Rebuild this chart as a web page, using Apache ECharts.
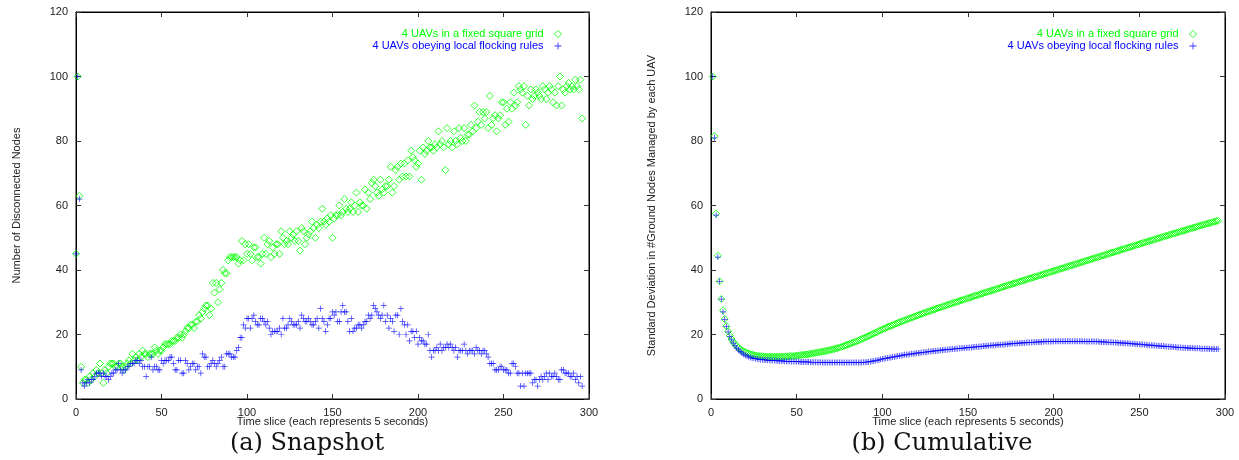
<!DOCTYPE html>
<html>
<head>
<meta charset="utf-8">
<script src="https://cdn.jsdelivr.net/npm/echarts@6/dist/echarts.min.js"></script>
<style>
  body { margin: 0; background: #fff; }
  #chart { width: 1239px; height: 460px; }
</style>
</head>
<body>
<div id="chart"></div>
<script>
// legend / series names
const gridName = '4 UAVs in a fixed square grid'
const flockName = '4 UAVs obeying local flocking rules'

// x ticks and y ticks (same for both panels)
const xTicks = [0, 50, 100, 150, 200, 250, 300]
const yTicks = [0, 20, 40, 60, 80, 100, 120]

// (a) Snapshot: one value per time slice, starting at slice 0
const snapFirstSlice = 0
const snapGrid = [
  45, 100, 63, 10, 5, 6, 6, 5, 7, 6,
  8, 7, 9, 8, 11, 8, 5, 9, 8, 10,
  11, 11, 11, 10, 10, 11, 11, 10, 9, 10,
  11, 12, 11, 14, 12, 13, 12, 14, 13, 15,
  14, 14, 13, 14, 14, 14, 16, 15, 14, 15,
  15, 16, 17, 17, 17, 17, 18, 18, 18, 19,
  19, 20, 19, 20, 21, 22, 22, 23, 23, 22,
  24, 24, 26, 25, 27, 28, 29, 29, 26, 28,
  36, 33, 36, 30, 34, 36, 40, 39, 39, 43,
  44, 44, 44, 44, 44, 42, 43, 49, 43, 48,
  45, 48, 45, 43, 47, 47, 44, 44, 42, 45,
  50, 45, 48, 49, 44, 47, 45, 48, 48, 45,
  52, 50, 48, 49, 48, 52, 50, 51, 49, 52,
  49, 46, 53, 52, 48, 50, 51, 52, 55, 53,
  50, 54, 53, 55, 59, 55, 54, 56, 55, 57,
  50, 56, 57, 57, 60, 57, 58, 62, 59, 58,
  59, 61, 58, 60, 64, 58, 61, 60, 60, 65,
  59, 64, 62, 67, 68, 66, 64, 63, 68, 65,
  64, 66, 66, 68, 72, 64, 66, 71, 72, 68,
  73, 69, 73, 69, 74, 69, 77, 75, 74, 72,
  73, 77, 68, 78, 76, 77, 80, 78, 78, 77,
  79, 78, 83, 79, 80, 78, 71, 84, 79, 80,
  78, 83, 80, 79, 84, 81, 80, 84, 80, 82,
  82, 85, 83, 91, 84, 86, 89, 85, 89, 87,
  89, 84, 94, 85, 87, 88, 83, 87, 88, 92,
  92, 85, 90, 86, 92, 90, 95, 91, 92, 97,
  96, 95, 97, 85, 94, 91, 96, 93, 94, 96,
  95, 94, 93, 97, 96, 93, 95, 97, 96, 92,
  95, 91, 97, 100, 91, 96, 95, 97, 98, 96,
  97, 96, 99, 97, 96, 99, 87
]
const snapFlock = [
  45, 100, 62, 9, 5, 4, 5, 6, 5, 6,
  6, 7, 8, 8, 8, 7, 8, 7, 7, 6,
  7, 8, 8, 9, 9, 11, 9, 8, 9, 9,
  10, 10, 11, 11, 11, 12, 12, 11, 12, 10,
  10, 7, 10, 10, 13, 9, 10, 10, 9, 9,
  12, 11, 12, 12, 12, 13, 13, 11, 9, 9,
  12, 12, 8, 8, 12, 11, 9, 10, 11, 11,
  9, 10, 10, 8, 14, 13, 13, 10, 10, 11,
  12, 11, 10, 11, 12, 13, 10, 10, 14, 14,
  14, 13, 13, 13, 15, 16, 19, 19, 23, 22,
  25, 25, 22, 25, 26, 24, 23, 23, 25, 25,
  24, 23, 24, 22, 20, 21, 21, 21, 21, 22,
  20, 25, 22, 22, 23, 25, 24, 23, 23, 23,
  24, 22, 26, 25, 24, 24, 25, 24, 23, 23,
  24, 25, 22, 28, 25, 24, 21, 23, 25, 25,
  27, 26, 27, 24, 24, 27, 29, 27, 27, 24,
  21, 25, 21, 22, 22, 23, 23, 22, 23, 24,
  24, 26, 25, 26, 29, 28, 27, 26, 25, 26,
  29, 24, 26, 22, 25, 24, 21, 26, 26, 20,
  28, 24, 23, 20, 23, 18, 21, 21, 19, 21,
  17, 19, 18, 18, 17, 17, 20, 15, 13, 15,
  15, 16, 15, 17, 15, 16, 16, 17, 16, 17,
  16, 15, 16, 13, 15, 15, 15, 17, 15, 14,
  15, 15, 15, 14, 16, 15, 15, 14, 15, 15,
  14, 13, 11, 11, 11, 9, 9, 9, 10, 10,
  9, 9, 9, 8, 8, 11, 11, 10, 8, 8,
  4, 8, 4, 8, 8, 8, 8, 5, 6, 6,
  4, 6, 7, 6, 7, 8, 6, 8, 7, 7,
  8, 7, 6, 6, 9, 9, 8, 8, 8, 7,
  7, 8, 6, 7, 5, 7, 4
]

// (b) Cumulative: one value per time slice, starting at slice 1
const cumFirstSlice = 1
const cumGrid = [
  100, 81.5, 57.5, 44.5, 36.5, 31, 27.5, 24.8, 22.6, 21,
  19.7, 18.6, 17.7, 17, 16.4, 15.9, 15.5, 15.1, 14.8, 14.5,
  14.3, 14.1, 13.9, 13.8, 13.6, 13.5, 13.4, 13.3, 13.3, 13.2,
  13.2, 13.1, 13.1, 13.1, 13.1, 13.1, 13.1, 13.1, 13.1, 13.1,
  13.1, 13.1, 13.2, 13.2, 13.2, 13.3, 13.3, 13.3, 13.4, 13.4,
  13.5, 13.6, 13.6, 13.7, 13.8, 13.8, 13.9, 14.0, 14.1, 14.2,
  14.3, 14.4, 14.5, 14.6, 14.7, 14.8, 14.9, 15.0, 15.1, 15.3,
  15.4, 15.5, 15.7, 15.8, 16.0, 16.1, 16.3, 16.5, 16.7, 16.9,
  17.1, 17.3, 17.5, 17.7, 17.9, 18.1, 18.4, 18.6, 18.8, 19.1,
  19.3, 19.6, 19.8, 20.1, 20.3, 20.6, 20.8, 21.1, 21.3, 21.6,
  21.8, 22.0, 22.3, 22.5, 22.7, 22.9, 23.1, 23.4, 23.6, 23.8,
  24.0, 24.2, 24.4, 24.6, 24.8, 25.0, 25.2, 25.4, 25.6, 25.8,
  26.0, 26.2, 26.4, 26.6, 26.8, 27.0, 27.2, 27.3, 27.5, 27.7,
  27.9, 28.1, 28.3, 28.4, 28.6, 28.8, 29.0, 29.2, 29.3, 29.5,
  29.7, 29.9, 30.0, 30.2, 30.4, 30.6, 30.7, 30.9, 31.1, 31.3,
  31.4, 31.6, 31.8, 32.0, 32.1, 32.3, 32.5, 32.6, 32.8, 33.0,
  33.2, 33.3, 33.5, 33.7, 33.8, 34.0, 34.2, 34.3, 34.5, 34.7,
  34.9, 35.0, 35.2, 35.4, 35.5, 35.7, 35.9, 36.0, 36.2, 36.4,
  36.5, 36.7, 36.9, 37.0, 37.2, 37.4, 37.5, 37.7, 37.9, 38.0,
  38.2, 38.4, 38.5, 38.7, 38.9, 39.0, 39.2, 39.4, 39.5, 39.7,
  39.9, 40.0, 40.2, 40.4, 40.5, 40.7, 40.9, 41.0, 41.2, 41.4,
  41.5, 41.7, 41.9, 42.0, 42.2, 42.4, 42.5, 42.7, 42.9, 43.0,
  43.2, 43.4, 43.5, 43.7, 43.9, 44.0, 44.2, 44.4, 44.5, 44.7,
  44.9, 45.0, 45.2, 45.4, 45.5, 45.7, 45.9, 46.0, 46.2, 46.4,
  46.5, 46.7, 46.9, 47.0, 47.2, 47.4, 47.5, 47.7, 47.9, 48.0,
  48.2, 48.4, 48.5, 48.7, 48.9, 49.0, 49.2, 49.3, 49.5, 49.7,
  49.8, 50.0, 50.2, 50.3, 50.5, 50.6, 50.8, 51.0, 51.1, 51.3,
  51.4, 51.6, 51.8, 51.9, 52.1, 52.2, 52.4, 52.6, 52.7, 52.9,
  53.0, 53.2, 53.3, 53.5, 53.7, 53.8, 54.0, 54.1, 54.3, 54.4,
  54.6, 54.7, 54.9, 55.0, 55.2, 55.3
]
const cumFlock = [
  100, 81, 57, 44, 36.5, 31, 27, 24.7, 22.5, 20.8,
  19.4, 18.3, 17.3, 16.5, 15.8, 15.2, 14.7, 14.3, 13.9, 13.6,
  13.3, 13.1, 12.9, 12.7, 12.6, 12.5, 12.4, 12.3, 12.2, 12.2,
  12.1, 12.1, 12.0, 12.0, 12.0, 11.9, 11.9, 11.9, 11.8, 11.8,
  11.8, 11.8, 11.7, 11.7, 11.7, 11.7, 11.6, 11.6, 11.6, 11.6,
  11.6, 11.5, 11.5, 11.5, 11.5, 11.5, 11.5, 11.4, 11.4, 11.4,
  11.4, 11.4, 11.4, 11.4, 11.3, 11.3, 11.3, 11.3, 11.3, 11.3,
  11.3, 11.3, 11.3, 11.3, 11.3, 11.3, 11.3, 11.3, 11.3, 11.3,
  11.3, 11.3, 11.3, 11.3, 11.3, 11.3, 11.3, 11.3, 11.4, 11.4,
  11.5, 11.5, 11.6, 11.7, 11.8, 11.9, 12.0, 12.1, 12.3, 12.4,
  12.5, 12.6, 12.7, 12.8, 12.9, 13.0, 13.1, 13.2, 13.3, 13.4,
  13.5, 13.6, 13.7, 13.7, 13.8, 13.9, 14.0, 14.0, 14.1, 14.2,
  14.3, 14.3, 14.4, 14.5, 14.5, 14.6, 14.7, 14.7, 14.8, 14.9,
  14.9, 15.0, 15.0, 15.1, 15.2, 15.2, 15.3, 15.3, 15.4, 15.4,
  15.5, 15.5, 15.6, 15.6, 15.7, 15.7, 15.8, 15.8, 15.9, 15.9,
  16.0, 16.0, 16.1, 16.1, 16.2, 16.2, 16.3, 16.3, 16.4, 16.4,
  16.5, 16.5, 16.6, 16.6, 16.7, 16.7, 16.8, 16.8, 16.8, 16.9,
  16.9, 17.0, 17.0, 17.1, 17.1, 17.2, 17.2, 17.2, 17.3, 17.3,
  17.4, 17.4, 17.4, 17.5, 17.5, 17.5, 17.6, 17.6, 17.6, 17.7,
  17.7, 17.7, 17.7, 17.8, 17.8, 17.8, 17.8, 17.8, 17.8, 17.8,
  17.9, 17.9, 17.9, 17.9, 17.9, 17.9, 17.9, 17.9, 17.9, 17.9,
  17.9, 17.9, 17.9, 17.9, 17.9, 17.9, 17.9, 17.9, 17.8, 17.8,
  17.8, 17.8, 17.8, 17.8, 17.8, 17.8, 17.7, 17.7, 17.7, 17.7,
  17.6, 17.6, 17.6, 17.6, 17.5, 17.5, 17.5, 17.4, 17.4, 17.4,
  17.3, 17.3, 17.3, 17.2, 17.2, 17.1, 17.1, 17.0, 17.0, 17.0,
  16.9, 16.9, 16.8, 16.8, 16.7, 16.7, 16.7, 16.6, 16.6, 16.5,
  16.5, 16.4, 16.4, 16.4, 16.3, 16.3, 16.2, 16.2, 16.2, 16.1,
  16.1, 16.0, 16.0, 16.0, 15.9, 15.9, 15.9, 15.8, 15.8, 15.8,
  15.8, 15.7, 15.7, 15.7, 15.7, 15.6, 15.6, 15.6, 15.6, 15.6,
  15.5, 15.5, 15.5, 15.5, 15.5, 15.5
]

const GREEN = '#00ff00'
const BLUE = '#0000ff'
const FONT = 'Liberation Sans'
// gnuplot style plus sign, drawn as a filled cross
const PLUS = 'path://M4.4,0H5.6V4.4H10V5.6H5.6V10H4.4V5.6H0V4.4H4.4Z'

function toPoints(first, values) {
  return values.map((v, i) => [first + i, v])
}

let mycharts = echarts.init(document.getElementById('chart'))

// one pair of axes per grid, plus mirrored ticks on top / right like gnuplot
function makeX(gridIndex, mirror) {
  return {
    gridIndex: gridIndex,
    type: 'value',
    position: mirror ? 'top' : 'bottom',
    min: xTicks[0],
    max: xTicks[xTicks.length - 1],
    interval: xTicks[1] - xTicks[0],
    name: mirror ? '' : 'Time slice (each represents 5 seconds)',
    nameLocation: 'middle',
    nameGap: 17,
    nameMoveOverlap: false,
    nameTextStyle: { fontFamily: FONT, fontSize: 11, color: '#222' },
    axisLine: { show: true, onZero: false, lineStyle: { color: '#000', width: 1 } },
    axisTick: { show: true, inside: true, length: 5, lineStyle: { color: '#333' } },
    axisLabel: { show: !mirror, fontFamily: FONT, fontSize: 11, color: '#222', margin: 8 },
    splitLine: { show: false },
  }
}
function makeY(gridIndex, mirror, title) {
  return {
    gridIndex: gridIndex,
    type: 'value',
    position: mirror ? 'right' : 'left',
    min: yTicks[0],
    max: yTicks[yTicks.length - 1],
    interval: yTicks[1] - yTicks[0],
    name: mirror ? '' : title,
    nameLocation: 'middle',
    nameGap: 54,
    nameTextStyle: { fontFamily: FONT, fontSize: 11, color: '#222' },
    axisLine: { show: true, onZero: false, lineStyle: { color: '#000', width: 1 } },
    axisTick: { show: true, inside: true, length: 5, lineStyle: { color: '#333' } },
    axisLabel: { show: !mirror, fontFamily: FONT, fontSize: 11, color: '#222', margin: 8 },
    splitLine: { show: false },
  }
}

function greenSeries(xi, data) {
  return {
    name: gridName,
    type: 'scatter',
    xAxisIndex: xi,
    yAxisIndex: xi,
    symbol: 'diamond',
    symbolSize: 7,
    itemStyle: { color: 'rgba(0,0,0,0)', borderColor: GREEN, borderWidth: 1 },
    data: data,
  }
}
function blueSeries(xi, data) {
  return {
    name: flockName,
    type: 'scatter',
    xAxisIndex: xi,
    yAxisIndex: xi,
    symbol: PLUS,
    symbolSize: 6,
    itemStyle: { color: BLUE },
    data: data,
  }
}

// text sits left of the symbol, like the gnuplot key
function makeLegend(right) {
  return {
    orient: 'vertical',
    right: right,
    top: 23,
    align: 'right',
    itemWidth: 7,
    itemHeight: 7,
    itemGap: 0,
    itemStyle: { borderWidth: 1 },
    textStyle: { fontFamily: FONT, fontSize: 11, lineHeight: 12, padding: [0, 6, 0, 0] },
    data: [
      { name: gridName, textStyle: { color: GREEN } },
      { name: flockName, textStyle: { color: BLUE } },
    ],
  }
}

mycharts.setOption({
  animation: false,
  backgroundColor: '#fff',
  grid: [
    { left: 76, right: 650, top: 12, bottom: 61, show: true, borderColor: '#000', borderWidth: 1 },
    { left: 711, right: 14, top: 12, bottom: 61, show: true, borderColor: '#000', borderWidth: 1 },
  ],
  xAxis: [makeX(0, false), makeX(0, true), makeX(1, false), makeX(1, true)],
  yAxis: [
    makeY(0, false, 'Number of Disconnected Nodes'),
    makeY(0, true),
    makeY(1, false, 'Standard Deviation in #Ground Nodes Managed by each UAV'),
    makeY(1, true),
  ],
  legend: [makeLegend(672), makeLegend(37)],
  series: [
    greenSeries(0, toPoints(snapFirstSlice, snapGrid)),
    blueSeries(0, toPoints(snapFirstSlice, snapFlock)),
    { ...greenSeries(2, toPoints(cumFirstSlice, cumGrid)), yAxisIndex: 2 },
    { ...blueSeries(2, toPoints(cumFirstSlice, cumFlock)), yAxisIndex: 2 },
  ],
  graphic: [
    {
      type: 'text', x: 307, y: 444,
      style: { text: '(a) Snapshot', font: '24px "DejaVu Serif"', fill: '#111', textAlign: 'center', textVerticalAlign: 'middle' },
    },
    {
      type: 'text', x: 942, y: 444,
      style: { text: '(b) Cumulative', font: '24px "DejaVu Serif"', fill: '#111', textAlign: 'center', textVerticalAlign: 'middle' },
    },
  ],
})
</script>
</body>
</html>
